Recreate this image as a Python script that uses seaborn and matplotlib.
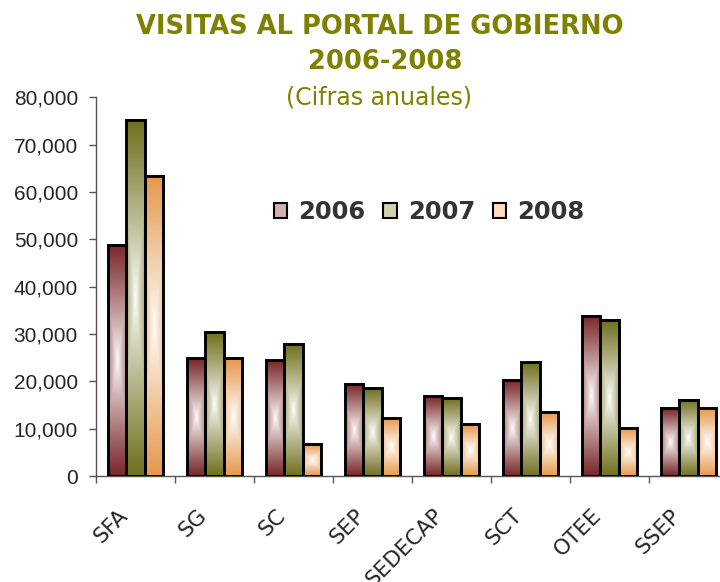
import numpy as np
import pandas as pd
import matplotlib
matplotlib.use('Agg')
import matplotlib.pyplot as plt
import matplotlib.colors as mcolors
from matplotlib.patches import Patch
from matplotlib.ticker import FuncFormatter, FixedLocator
import seaborn as sns

dependencias = ['SFA', 'SG', 'SC', 'SEP', 'SEDECAP', 'SCT', 'OTEE', 'SSEP']
anios = ['2006', '2007', '2008']
visitas_2006 = [48800, 24900, 24500, 19400, 16800, 20200, 33800, 14300]
visitas_2007 = [75300, 30400, 27800, 18500, 16400, 24000, 32900, 16100]
visitas_2008 = [63400, 24900, 6700, 12300, 10900, 13500, 10100, 14300]
colores = ['#861a1c', '#7e7e12', '#ff9933']

df = pd.DataFrame({
    'dep': dependencias * 3,
    'anio': [a for a in anios for _ in dependencias],
    'visitas': visitas_2006 + visitas_2007 + visitas_2008,
})

sns.set_style('white')
plt.rcParams['font.family'] = ['Liberation Sans', 'DejaVu Sans']

fig = plt.figure(figsize=(7.2, 5.82), dpi=100)
ax = fig.add_axes([96/720, 106/582, 632/720, 378.7/582])

sns.barplot(data=df, x='dep', y='visitas', hue='anio', palette=colores,
            width=0.7, order=dependencias, hue_order=anios, legend=False, ax=ax)

# degradado: color arriba/abajo, blanco al centro
def gradiente(color, n=120, m=30):
    c = np.array(mcolors.to_rgb(color))
    v = np.linspace(-1, 1, n)[:, None]
    u = np.linspace(-1, 1, m)[None, :]
    f = np.clip(np.maximum(np.abs(v), 0.55*np.abs(u)), 0, 1) ** 0.9
    img = np.ones((n, m, 3)) * (1 - f[..., None]) + c * f[..., None]
    return img

bars = [p for p in ax.patches if p.get_height() > 0]
for p in bars:
    col = p.get_facecolor()
    x, y, w, h = p.get_x(), p.get_y(), p.get_width(), p.get_height()
    ax.imshow(gradiente(col), extent=[x, x + w, y, y + h], aspect='auto',
              origin='lower', zorder=2, interpolation='bilinear')
    p.set_facecolor('none')
    p.set_edgecolor('black')
    p.set_linewidth(2.1)
    p.set_zorder(3)

ax.set_xlim(-0.5, len(dependencias) - 0.5)
ax.set_ylim(0, 80000)
ax.set_xlabel('')
ax.set_ylabel('')

ax.yaxis.set_major_locator(FixedLocator(np.arange(0, 80001, 10000)))
ax.yaxis.set_major_formatter(FuncFormatter(lambda v, _: f'{int(v):,}'))
ax.tick_params(axis='y', direction='out', length=5, width=1, color='#555555',
               labelsize=15, pad=8, left=True)

# etiquetas giradas, un poco a la izquierda del centro de cada grupo
ax.set_xticks(np.arange(len(dependencias)) - 0.23)
ax.set_xticklabels(dependencias, rotation=45, ha='right', rotation_mode='anchor',
                   fontsize=15.5, family='DejaVu Sans')
ax.set_xticks(np.arange(-0.5, len(dependencias)), minor=True)
ax.tick_params(axis='x', which='major', length=0, pad=21)
ax.tick_params(axis='x', which='minor', direction='out', length=5, width=1,
               color='#555555', bottom=True)

for s in ['top', 'right']:
    ax.spines[s].set_visible(False)
for s in ['left', 'bottom']:
    ax.spines[s].set_color('#555555')
    ax.spines[s].set_linewidth(1)

titulo = '#808000'
fig.text(0.527, 0.954, 'VISITAS AL PORTAL DE GOBIERNO', ha='center', va='center',
         fontsize=18.5, fontweight='bold', color=titulo, family='DejaVu Sans')
fig.text(0.535, 0.893, '2006-2008', ha='center', va='center',
         fontsize=18.5, fontweight='bold', color=titulo, family='DejaVu Sans')
fig.text(0.527, 0.833, '(Cifras anuales)', ha='center', va='center',
         fontsize=17, color=titulo, family='DejaVu Sans')

handles = [Patch(facecolor=np.array(mcolors.to_rgb(c)) * 0.35 + 0.65,
                 edgecolor='black', linewidth=1.5, label=a)
           for c, a in zip(colores, anios)]
fig.legend(handles=handles, loc='center', bbox_to_anchor=(0.596, 0.636), ncol=3,
           frameon=False, handlelength=0.55, handleheight=0.6, handletextpad=0.45,
           columnspacing=0.75, prop={'family': 'DejaVu Sans', 'weight': 'bold', 'size': 17.5},
           labelcolor='#333333')

fig.savefig('out.png', dpi=100)
